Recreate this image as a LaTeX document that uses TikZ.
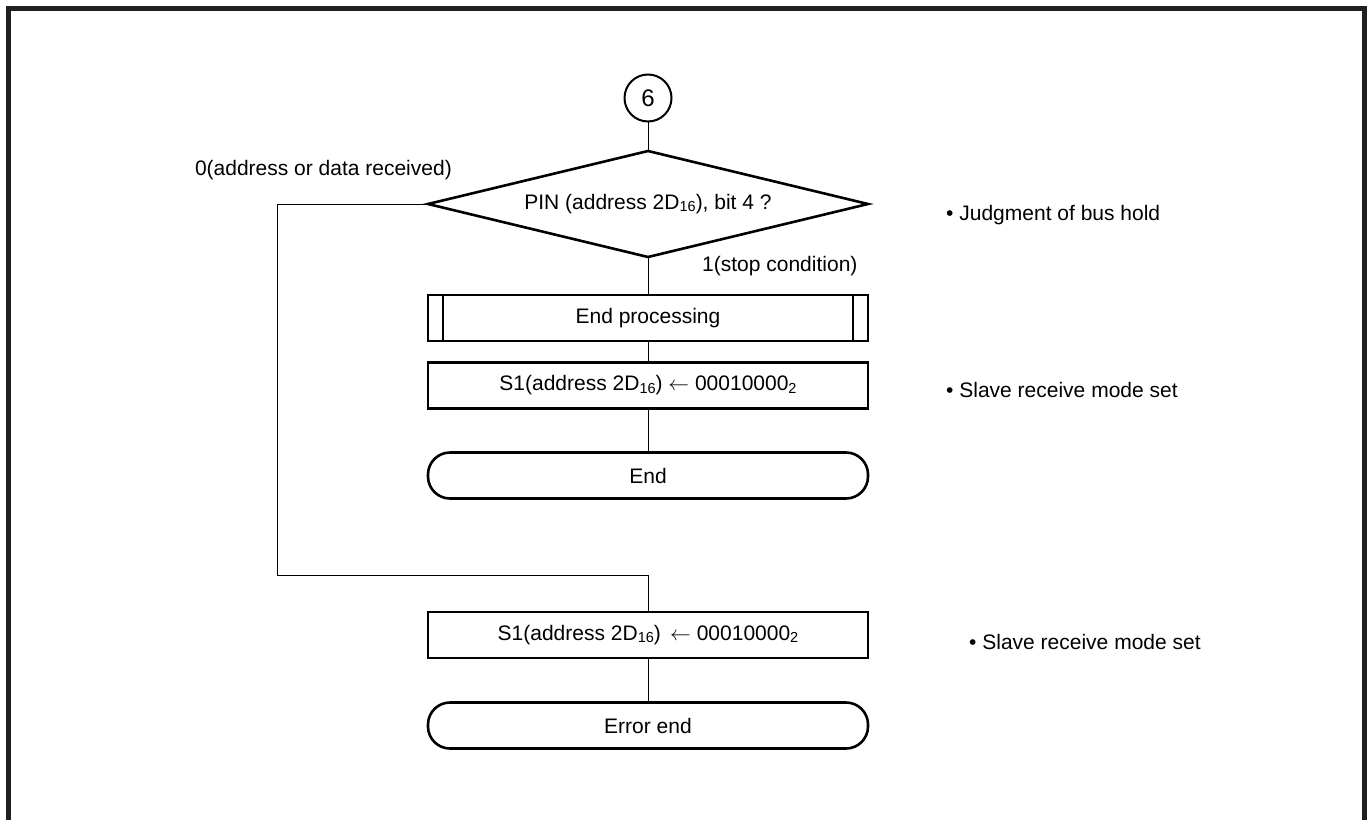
\documentclass[tikz,border=0pt]{standalone}
\usepackage{fontspec}
\setmainfont{Liberation Sans}
\usetikzlibrary{shapes.geometric}
\newcommand{\subnum}[1]{\raisebox{-0.12em}{\fontsize{14.5}{14.5}\selectfont #1}}
\begin{document}
\begin{tikzpicture}[x=1pt,y=-1pt,
  every node/.style={font=\fontsize{21}{25}\selectfont, text=black},
  shp/.style={draw, line width=2.6pt, inner sep=0pt, outer sep=0pt},
  procbox/.style={shp, rectangle, minimum width=440pt, minimum height=46pt},
  termbox/.style={shp, rectangle, rounded corners=22pt, minimum width=440pt, minimum height=46pt},
  decbox/.style={shp, diamond, aspect=4.15, minimum width=440pt, minimum height=106pt},
  conbox/.style={shp, circle, line width=2pt, minimum size=47pt, font=\fontsize{24}{26}\selectfont},
  conn/.style={line width=1pt},
  note/.style={anchor=west, inner sep=0pt}]
\useasboundingbox (0,0) rectangle (1372,819);
\draw[line width=5pt, color={black!88}] (8.5,8.5) rectangle (1364.5,822);

\node[conbox] (c6) at (648,98) {6};
\node[decbox] (d) at (648,204) {PIN (address 2D\subnum{16}), bit 4 ?};
\node[procbox] (ep) at (648,318) {End processing};
\draw[line width=2.6pt] ([xshift=15pt]ep.north west) -- ([xshift=15pt]ep.south west);
\draw[line width=2.6pt] ([xshift=-15pt]ep.north east) -- ([xshift=-15pt]ep.south east);
\node[procbox] (s1) at (648,385.5) {S1(address 2D\subnum{16}) $\leftarrow$ 00010000\subnum{2}};
\node[termbox] (e1) at (648,475.5) {End};
\node[procbox] (s2) at (648,635) {S1(address 2D\subnum{16})\, $\leftarrow$ 00010000\subnum{2}};
\node[termbox] (e2) at (648,725.5) {Error end};

\coordinate (k1) at (277,204);
\coordinate (k2) at (277,575);
\coordinate (k3) at (648,575);

\draw[conn] (c6) -- (d.north);
\draw[conn] (d.south) -- (ep.north);
\draw[conn] (ep) -- (s1);
\draw[conn] (s1) -- (e1);
\draw[conn] (d.west) -- (k1) -- (k2) -- (k3) -- (s2.north);
\draw[conn] (s2) -- (e2);

\node[anchor=east, inner sep=0pt] (l0) at (452,170) {0(address or data received)};
\node[anchor=west, inner sep=0pt] (l1) at (702,266) {1(stop condition)};

\node[note] (n1) at (946,215) {\textbullet\ Judgment of bus hold};
\node[note] (n2) at (946,390) {\textbullet\ Slave receive mode set};
\node[note] (n3) at (969,642) {\textbullet\ Slave receive mode set};
\end{tikzpicture}
\end{document}
